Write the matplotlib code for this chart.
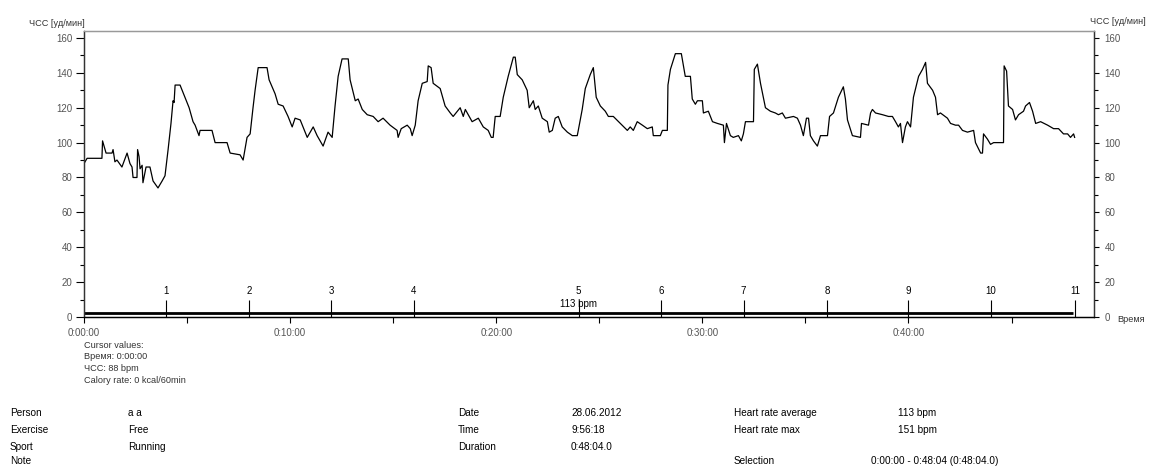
import matplotlib
matplotlib.use("Agg")
import matplotlib.pyplot as plt
from matplotlib.ticker import MultipleLocator, FuncFormatter

# heart rate trace: time in minutes, heart rate in bpm
time_min = [
    0.00, 0.15, 0.87, 0.90, 1.07, 1.36, 1.41, 1.50, 1.60, 1.84, 2.09, 2.23, 2.33, 2.38,
    2.57, 2.60, 2.67, 2.72, 2.82, 2.86, 3.01, 3.20, 3.35, 3.59, 3.79, 3.93, 4.08, 4.22,
    4.32, 4.37, 4.42, 4.66, 4.90, 5.10, 5.29, 5.39, 5.58, 5.63, 6.21, 6.36, 6.94, 7.09,
    7.57, 7.72, 7.91, 8.06, 8.20, 8.30, 8.45, 8.88, 8.98, 9.27, 9.42, 9.66, 9.90, 10.10,
    10.24, 10.49, 10.83, 11.12, 11.31, 11.60, 11.84, 12.04, 12.18, 12.33, 12.52, 12.82,
    12.91, 13.16, 13.30, 13.50, 13.74, 14.03, 14.27, 14.51, 14.85, 15.19, 15.24, 15.39,
    15.68, 15.83, 15.92, 16.07, 16.21, 16.41, 16.65, 16.70, 16.84, 16.94, 17.28, 17.52,
    17.77, 17.91, 18.25, 18.40, 18.50, 18.83, 19.13, 19.37, 19.61, 19.76, 19.85, 19.95,
    20.19, 20.34, 20.58, 20.83, 20.92, 21.02, 21.26, 21.50, 21.60, 21.80, 21.89, 22.04,
    22.23, 22.48, 22.57, 22.72, 22.86, 23.01, 23.20, 23.45, 23.69, 23.93, 23.98, 24.17,
    24.32, 24.56, 24.71, 24.85, 25.05, 25.29, 25.44, 25.68, 26.02, 26.36, 26.50, 26.65,
    26.84, 27.09, 27.33, 27.57, 27.62, 27.96, 28.06, 28.30, 28.33, 28.45, 28.69, 28.98,
    29.08, 29.17, 29.42, 29.51, 29.66, 29.76, 30.00, 30.05, 30.29, 30.49, 30.73, 31.02,
    31.07, 31.17, 31.36, 31.50, 31.75, 31.89, 31.99, 32.09, 32.48, 32.52, 32.67, 32.82,
    33.06, 33.30, 33.54, 33.69, 33.88, 34.03, 34.42, 34.61, 34.76, 34.90, 35.05, 35.15,
    35.24, 35.39, 35.58, 35.73, 36.07, 36.17, 36.36, 36.60, 36.84, 36.94, 37.04, 37.28,
    37.67, 37.72, 38.06, 38.16, 38.25, 38.40, 38.74, 39.03, 39.22, 39.37, 39.51, 39.61,
    39.71, 39.85, 39.95, 40.10, 40.24, 40.49, 40.68, 40.83, 40.92, 41.17, 41.31, 41.41,
    41.55, 41.89, 42.04, 42.28, 42.43, 42.62, 42.86, 43.16, 43.25, 43.50, 43.59, 43.64,
    43.83, 43.98, 44.13, 44.61, 44.64, 44.76, 44.85, 45.05, 45.19, 45.34, 45.58, 45.68,
    45.87, 46.02, 46.17, 46.41, 46.75, 47.04, 47.28, 47.52, 47.72, 47.86, 48.01, 48.06,
]
heart_rate = [
    88, 91, 91, 101, 94, 94, 96, 89, 90, 86, 94, 88, 86, 80,
    80, 96, 92, 85, 87, 77, 86, 86, 78, 74, 78, 81, 96, 111,
    124, 123, 133, 133, 126, 120, 112, 110, 104, 107, 107, 100, 100, 94,
    93, 90, 103, 105, 120, 130, 143, 143, 136, 128, 122, 121, 115, 109,
    114, 113, 103, 109, 104, 98, 106, 103, 121, 138, 148, 148,
    136, 124, 125, 119, 116, 115, 112, 114, 110, 107, 103, 108,
    110, 108, 104, 110, 124, 134, 135, 144, 143, 134, 131, 121,
    117, 115, 120, 115, 119, 112, 114, 109, 107, 103, 103, 115,
    115, 126, 138, 149, 149, 139, 136, 130, 120, 124, 119, 121,
    114, 112, 106, 107, 114, 115, 109, 106, 104, 104, 107, 119,
    131, 139, 143, 126, 121, 118, 115, 115, 111, 107, 109, 107,
    112, 110, 108, 109, 104, 104, 107, 107, 133, 142, 151, 151,
    144, 138, 138, 125, 122, 124, 124, 117, 118, 112, 111, 110,
    100, 111, 104, 103, 104, 101, 105, 112, 112, 142, 145, 134,
    120, 118, 117, 116, 117, 114, 115, 114, 110, 104, 114, 114,
    104, 101, 98, 104, 104, 115, 117, 126, 132, 125, 113, 104,
    103, 111, 110, 117, 119, 117, 116, 115, 115, 112, 109, 111,
    100, 109, 112, 109, 126, 138, 142, 146, 134, 130, 126, 116,
    117, 114, 111, 110, 110, 107, 106, 107, 100, 94, 94, 105,
    102, 99, 100, 100, 144, 141, 121, 119, 113, 116, 118, 121,
    123, 118, 111, 112, 110, 108, 108, 105, 105, 103, 105, 103,
]

lap_times = [3.98, 8.0, 12.0, 16.0, 24.0, 28.0, 32.0, 36.05, 40.0, 44.0, 48.07]
lap_labels = ["1", "2", "3", "4", "5", "6", "7", "8", "9", "10", "11"]
duration_min = 48.07
avg_hr = 113

cursor_lines = ["Cursor values:", "Время: 0:00:00", "ЧСС: 88 bpm", "Calory rate: 0 kcal/60min"]
info_col1 = [("Person", "a a"), ("Exercise", "Free"), ("Sport", "Running"), ("Note", "")]
info_col2 = [("Date", "28.06.2012"), ("Time", "9:56:18"), ("Duration", "0:48:04.0")]
info_col3 = [("Heart rate average", "113 bpm"), ("Heart rate max", "151 bpm"), ("", ""),
             ("Selection", "0:00:00 - 0:48:04 (0:48:04.0)")]

plt.rcParams["font.family"] = ["Liberation Sans", "DejaVu Sans"]

W, H = 1149, 468
fig = plt.figure(figsize=(W / 100, H / 100), dpi=100)


def fx(px):
    return px / W


def fy(py):
    return 1 - py / H


ax = fig.add_axes([fx(84), fy(317), fx(1094) - fx(84), fy(31) - fy(317)])
ax.plot(time_min, heart_rate, color="black", lw=0.9)

# average bar and lap markers
ax.hlines(2.5, 0, 48.0, color="black", lw=2.0)
ax.vlines(lap_times, 0, 9.5, color="black", lw=0.8)
for t, lab in zip(lap_times, lap_labels):
    ax.text(t, 15, lab, ha="center", va="center", fontsize=7, color="black")
ax.text(24.0, 7.4, f"{avg_hr} bpm", ha="center", va="center", fontsize=7, color="black")

ax.set_xlim(0, 49)
ax.set_ylim(0, 164)

ax.xaxis.set_major_locator(MultipleLocator(10))
ax.xaxis.set_minor_locator(MultipleLocator(5))
ax.xaxis.set_major_formatter(FuncFormatter(lambda v, p: f"0:{int(v):02d}:00"))
ax.yaxis.set_major_locator(MultipleLocator(20))
ax.yaxis.set_minor_locator(MultipleLocator(10))

ax.tick_params(axis="x", which="both", direction="out", length=4, width=0.8,
               labelsize=7, labelcolor="#555555", pad=4)
ax.tick_params(axis="y", which="major", direction="out", length=5.5, width=0.8,
               labelsize=7, labelcolor="#555555", pad=3)
ax.tick_params(axis="y", which="minor", direction="out", length=3, width=0.8)

ax2 = ax.twinx()
ax2.set_ylim(0, 164)
ax2.yaxis.set_major_locator(MultipleLocator(20))
ax2.yaxis.set_minor_locator(MultipleLocator(10))
ax2.tick_params(axis="y", which="major", direction="out", length=3.5, width=0.8,
                labelsize=7, labelcolor="#555555", pad=4)
ax2.tick_params(axis="y", which="minor", direction="out", length=3, width=0.8)

for a in (ax, ax2):
    a.spines["top"].set_color("#999999")
    a.spines["bottom"].set_color("black")
    a.spines["left"].set_color("#333333")
    a.spines["right"].set_color("#333333")
    for s in a.spines.values():
        s.set_linewidth(0.9)

small = dict(fontsize=6.6, color="#333333", va="center")
fig.text(fx(29), fy(23), "ЧСС [уд/мин]", ha="left", **small)
fig.text(fx(1090), fy(22), "ЧСС [уд/мин]", ha="left", **small)
fig.text(fx(1117), fy(319), "Время", ha="left", **small)

for i, line in enumerate(cursor_lines):
    fig.text(fx(84), fy(345 + i * 11.8), line, ha="left", **small)

info = dict(fontsize=7.2, color="black", va="center", ha="left")
row_y = [413, 430, 447, 461]
for (lab, val), y in zip(info_col1, row_y):
    fig.text(fx(10), fy(y), lab, **info)
    fig.text(fx(128), fy(y), val, **info)
for (lab, val), y in zip(info_col2, row_y):
    fig.text(fx(458), fy(y), lab, **info)
    fig.text(fx(571), fy(y), val, **info)
for (lab, val), y in zip(info_col3, row_y):
    fig.text(fx(734), fy(y), lab, **info)
    vx = 871 if lab == "Selection" else 898
    fig.text(fx(vx), fy(y), val, **info)

fig.savefig("out.png", dpi=100)
